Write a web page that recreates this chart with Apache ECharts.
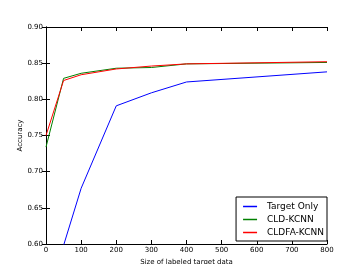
<!DOCTYPE html>
<html>
<head>
<meta charset="utf-8">
<script src="https://cdn.jsdelivr.net/npm/echarts@6/dist/echarts.min.js"></script>
<style>
html, body { margin: 0; padding: 0; background: #fff; }
#chart { width: 363px; height: 264px; }
</style>
</head>
<body>
<div id="chart"></div>
<script>
var sizes = [0, 50, 100, 200, 300, 400, 800];
var targetOnly = [0.52, 0.598, 0.677, 0.791, 0.809, 0.824, 0.838];
var cldKcnn = [0.734, 0.829, 0.836, 0.843, 0.844, 0.849, 0.851];
var cldfaKcnn = [0.750, 0.826, 0.834, 0.842, 0.846, 0.849, 0.852];

function pairs(xs, ys) {
	var out = [];
	for (var i = 0; i < xs.length; i++) {
		out.push([xs[i], ys[i]]);
	}
	return out;
}

var font = 'DejaVu Sans';
var tickStyle = { show: true, inside: true, length: 4, lineStyle: { color: '#000', width: 1 } };

var chart = echarts.init(document.getElementById('chart'));
chart.setOption({
	animation: false,
	grid: { left: 46, right: 36, top: 27, bottom: 20, containLabel: false, outerBoundsMode: 'none' },
	legend: {
		orient: 'vertical',
		right: 36,
		bottom: 23,
		backgroundColor: '#fff',
		borderColor: '#000',
		borderWidth: 1,
		borderRadius: 0,
		padding: [5, 3, 4, 7],
		itemGap: 4,
		itemWidth: 14,
		itemHeight: 1.5,
		icon: 'rect',
		textStyle: { fontFamily: font, fontSize: 9, color: '#000', padding: [0, 0, 0, 5] },
		data: ['Target Only', 'CLD-KCNN', 'CLDFA-KCNN']
	},
	xAxis: [{
		type: 'value',
		min: 0,
		max: 800,
		interval: 100,
		name: 'Size of labeled target data',
		nameLocation: 'middle',
		nameGap: 13,
		nameTextStyle: { fontFamily: font, fontSize: 7, color: '#000' },
		axisLine: { lineStyle: { color: '#000', width: 1 } },
		axisTick: tickStyle,
		axisLabel: { fontFamily: font, fontSize: 7, color: '#000', margin: 3 },
		splitLine: { show: false }
	}, {
		type: 'value',
		position: 'top',
		min: 0,
		max: 800,
		interval: 100,
		axisLine: { show: true, lineStyle: { color: '#000', width: 1 } },
		axisTick: tickStyle,
		axisLabel: { show: false },
		splitLine: { show: false }
	}],
	yAxis: [{
		type: 'value',
		min: 0.6,
		max: 0.9,
		interval: 0.05,
		name: 'Accuracy',
		nameLocation: 'middle',
		nameGap: 22,
		nameMoveOverlap: false,
		nameTextStyle: { fontFamily: font, fontSize: 7, color: '#000' },
		axisLine: { show: true, lineStyle: { color: '#000', width: 1 } },
		axisTick: tickStyle,
		axisLabel: {
			fontFamily: font, fontSize: 7, color: '#000', margin: 3,
			formatter: function (v) { return v.toFixed(2); }
		},
		splitLine: { show: false }
	}, {
		type: 'value',
		position: 'right',
		min: 0.6,
		max: 0.9,
		interval: 0.05,
		axisLine: { show: true, lineStyle: { color: '#000', width: 1 } },
		axisTick: tickStyle,
		axisLabel: { show: false },
		splitLine: { show: false }
	}],
	series: [{
		name: 'Target Only',
		type: 'line',
		data: pairs(sizes, targetOnly),
		symbol: 'none',
		clip: true,
		color: '#0000ff',
		lineStyle: { width: 1 }
	}, {
		name: 'CLD-KCNN',
		type: 'line',
		data: pairs(sizes, cldKcnn),
		symbol: 'none',
		clip: true,
		color: '#008000',
		lineStyle: { width: 1 }
	}, {
		name: 'CLDFA-KCNN',
		type: 'line',
		data: pairs(sizes, cldfaKcnn),
		symbol: 'none',
		clip: true,
		color: '#ff0000',
		lineStyle: { width: 1 }
	}]
});
</script>
</body>
</html>
